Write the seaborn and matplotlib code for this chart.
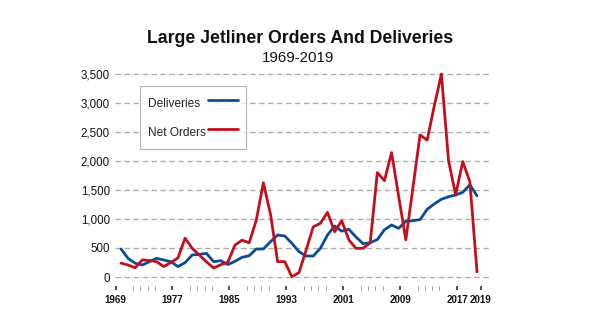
import matplotlib
matplotlib.use("Agg")
import matplotlib.pyplot as plt
from matplotlib import font_manager
import seaborn as sns
import pandas as pd
import numpy as np

# ---- data ----
years = list(range(1969, 2020))
deliveries = [483, 320, 236, 207, 264, 322, 293, 264, 180, 247,
              380, 391, 408, 264, 281, 215, 270, 339, 367, 483,
              483, 609, 724, 707, 581, 436, 362, 362, 494, 724,
              880, 790, 822, 690, 575, 591, 645, 815, 896, 839,
              960, 971, 990, 1167, 1260, 1340, 1384, 1414, 1460, 1590,
              1400]
net_orders = [240, 205, 160, 295, 285, 265, 180, 250, 330, 670,
              495, 380, 262, 155, 210, 255, 550, 635, 590, 980,
              1625, 1080, 265, 265, 5, 75, 465, 865, 925, 1115,
              780, 970, 640, 495, 495, 590, 1800, 1660, 2145, 1390,
              640, 1540, 2450, 2360, 2950, 3500, 2010, 1415, 1990, 1640,
              90]
series_names = ["Deliveries", "Net Orders"]
x_tick_labels = ["1969", "1977", "1985", "1993", "2001", "2009", "2017", "2019"]
y_ticks = [0, 500, 1000, 1500, 2000, 2500, 3000, 3500]

df = pd.DataFrame({
    "year": years * 2,
    "value": deliveries + net_orders,
    "series": [series_names[0]] * len(years) + [series_names[1]] * len(years),
})

sns.set_theme(style="white")
plt.rcParams["font.family"] = ["Liberation Sans", "DejaVu Sans"]

installed = {f.name for f in font_manager.fontManager.ttflist}
if "Liberation Sans Narrow" in installed:
    LEG_FAMILY, LEG_FS = ["Liberation Sans Narrow", "Liberation Sans"], 10.0
else:
    LEG_FAMILY, LEG_FS = ["Liberation Sans", "DejaVu Sans"], 8.6

W, H = 595, 335
DPI = 100
fig = plt.figure(figsize=(W / DPI, H / DPI), dpi=DPI)
ax = fig.add_axes([115 / W, (H - 285.7) / H, 374 / W, (285.7 - 71.1) / H])

palette = {"Deliveries": "#0a4c94", "Net Orders": "#c10f1c"}
sns.lineplot(data=df, x="year", y="value", hue="series", hue_order=series_names,
             palette=palette, linewidth=2.0, ax=ax, legend=True)

ax.set_xlim(1968.157, 2020.685)
ax.set_ylim(-150, 3550)
ax.set_xlabel("")
ax.set_ylabel("")
for s in ax.spines.values():
    s.set_visible(False)

# y axis: dashed grid, comma labels
ax.set_yticks(y_ticks)
ax.set_yticklabels([f"{v:,}" for v in y_ticks])
ax.yaxis.grid(True, color="#ababab", linewidth=0.95, linestyle=(0, (4.2, 2.6)))
ax.xaxis.grid(False)
ax.set_axisbelow(True)
ax.tick_params(axis="y", length=0, pad=3.6, labelsize=8.3, labelcolor="#111111")

# x axis ticks (labels sit slightly left of data years, as in the reference)
major_pos = [int(t) - 0.77 for t in x_tick_labels[:-1]] + [int(x_tick_labels[-1]) + 0.52]
ax.set_xticks(major_pos)
ax.set_xticklabels(x_tick_labels, fontweight="bold")
minor_pos = [m + d for m in major_pos[:-2] for d in (2.5, 3.5, 4.5, 5.5)]
ax.set_xticks(minor_pos, minor=True)
ax.tick_params(axis="x", which="major", bottom=True, length=3.0, width=1.1,
               color="#222222", pad=4.0, labelsize=7.0, labelcolor="#111111")
ax.tick_params(axis="x", which="minor", bottom=True, length=2.6, width=0.7,
               color="#999999")

# legend: text left-aligned, handles aligned on the right
px = lambda p: p * 72 / DPI          # pixels -> points
fs_px = LEG_FS * DPI / 72
row_px = 18.6
hh = (row_px / fs_px - 0.245) / 0.65
handles, labels = ax.get_legend_handles_labels()
leg = ax.legend(handles, labels, loc="upper left",
                bbox_to_anchor=((140 - 115) / 374, 1 - (86 - 71.1) / 214.6),
                borderaxespad=0, frameon=True, fancybox=False, markerfirst=False,
                prop={"family": LEG_FAMILY, "size": LEG_FS},
                handlelength=30.6 / fs_px, handleheight=hh,
                handletextpad=0.2, labelspacing=10.4 / fs_px,
                borderpad=7.7 / fs_px)
leg.get_frame().set_edgecolor("#a0a0a0")
leg.get_frame().set_linewidth(0.8)
for line in leg.get_lines():
    line.set_linewidth(2.0)

renderer = fig.canvas.get_renderer()
widths = [t.get_window_extent(renderer).width for t in leg.texts]
maxw = max(widths)
pad_px = max(1.5, 60 - maxw)
col = leg._legend_handle_box.get_children()[0]
col.align = "left"
for item, w in zip(col.get_children(), widths):
    item.sep = px(pad_px + (maxw - w))

# titles
fig.text(300 / W, 1 - 38.5 / H, "Large Jetliner Orders And Deliveries",
         ha="center", va="center", fontsize=12.7, fontweight="bold", color="#111111")
fig.text(298.5 / W, 1 - 58.5 / H, "1969-2019", ha="center", va="center",
         fontsize=10.8, color="#111111")

fig.savefig("out.png", dpi=DPI)
